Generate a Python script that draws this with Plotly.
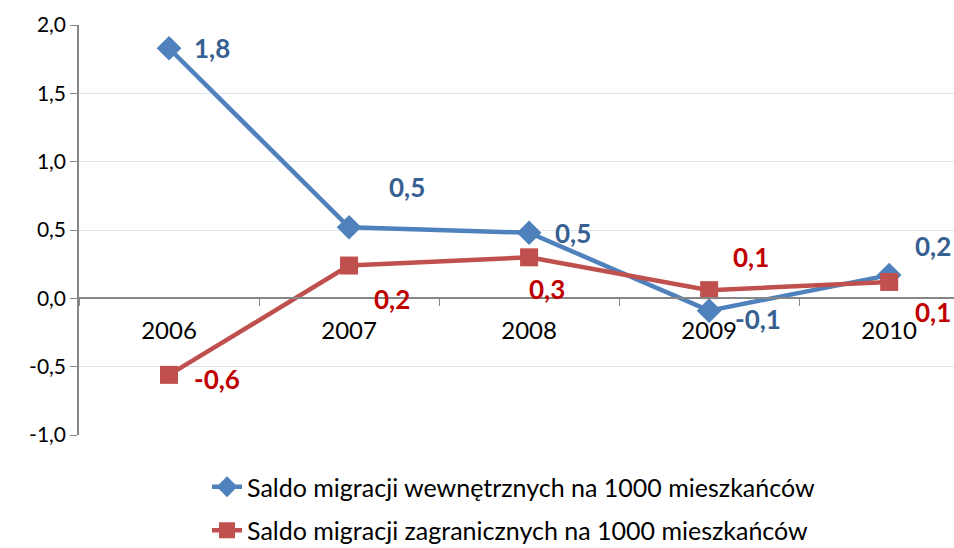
import plotly.graph_objects as go

# Dane: saldo migracji na 1000 mieszkańców
lata = ['2006', '2007', '2008', '2009', '2010']
wewnetrzne = [1.83, 0.52, 0.48, -0.09, 0.17]
zagraniczne = [-0.56, 0.24, 0.30, 0.06, 0.12]

nazwa_wewn = 'Saldo migracji wewnętrznych na 1000 mieszkańców'
nazwa_zagr = 'Saldo migracji zagranicznych na 1000 mieszkańców'

y_ticks = [-1.0, -0.5, 0.0, 0.5, 1.0, 1.5, 2.0]

# przesunięcia etykiet danych (px)
przes_wewn = [(43, 0), (58, 40), (44, 0), (49, -8), (44, 29)]
przes_zagr = [(48, -4), (43, -33), (18, -32), (42, 33), (44, -30)]

NIEBIESKI = '#4F81BD'
CZERWONY = '#C0504D'
FONT = 'Lato, Open Sans, sans-serif'


def fmt(v):
    return f'{v:.1f}'.replace('.', ',')


fig = go.Figure()

fig.add_trace(go.Scatter(
    x=lata, y=wewnetrzne, name=nazwa_wewn, mode='lines+markers',
    line=dict(color=NIEBIESKI, width=4.5),
    marker=dict(symbol='diamond', size=19, color=NIEBIESKI),
    legendgroup='a'
))
fig.add_trace(go.Scatter(
    x=lata, y=zagraniczne, name=nazwa_zagr, mode='lines+markers',
    line=dict(color=CZERWONY, width=4.5),
    marker=dict(symbol='square', size=18, color=CZERWONY),
    legendgroup='b'
))

# etykiety danych (x jako indeks kategorii)
for seria, przes, kolor in [(wewnetrzne, przes_wewn, '#376092'),
                            (zagraniczne, przes_zagr, '#C00000')]:
    for i, (v, (dx, dy)) in enumerate(zip(seria, przes)):
        fig.add_annotation(x=i, y=v, xref='x', yref='y',
                           text=f'<b>{fmt(v)}</b>', showarrow=False,
                           xshift=dx, yshift=dy,
                           font=dict(family=FONT, size=26, color=kolor))

fig.update_layout(
    width=954, height=548,
    margin=dict(l=79, r=0, t=25, b=113, autoexpand=False),
    plot_bgcolor='white', paper_bgcolor='white',
    font=dict(family=FONT, size=21, color='#000000'),
    showlegend=True,
    legend=dict(x=0.1463, y=-(464 - 435) / 410, xanchor='left', yanchor='top',
                orientation='v', tracegroupgap=8,
                font=dict(family=FONT, size=25, color='#000000')),
)

fig.update_yaxes(
    range=[-1.0, 2.0],
    tickvals=y_ticks, ticktext=[fmt(t) for t in y_ticks],
    showgrid=True, gridcolor='#DCE6F2', gridwidth=1, zeroline=False,
    showline=True, linecolor='#868686', linewidth=1.5,
    ticks='outside', ticklen=7, tickcolor='#868686',
    tickfont=dict(size=21),
)
fig.update_xaxes(
    type='category', range=[-0.5, 4.36], anchor='free', position=1 / 3,
    showgrid=False, zeroline=False,
    showline=True, linecolor='#868686', linewidth=1.5,
    ticks='outside', tickson='boundaries', ticklen=7, tickcolor='#868686',
    ticklabelstandoff=11, tickfont=dict(size=24),
)

fig.write_html('out.html', config={'displayModeBar': False},
               post_script="document.body.style.margin='0';")
